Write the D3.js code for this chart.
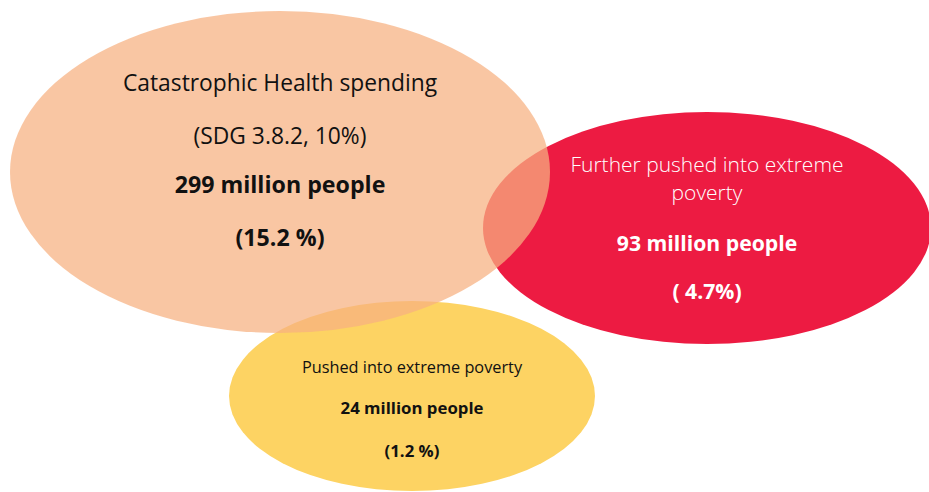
<!DOCTYPE html>
<html>
<head>
<meta charset="utf-8">
<script src="https://cdn.jsdelivr.net/npm/d3@7"></script>
<style>
  html, body { margin: 0; padding: 0; background: #fff; }
  svg { display: block; font-family: "Open Sans", "Noto Sans", sans-serif; }
</style>
</head>
<body>
<svg id="chart" width="929" height="492"></svg>
<script>
// Groups of people affected by out-of-pocket health spending
const groups = ["catastrophic", "furtherPushed", "pushed"];
const titles = [
  ["Catastrophic Health spending", "(SDG 3.8.2, 10%)"],
  ["Further pushed into extreme", "poverty"],
  ["Pushed into extreme poverty"]
];
const millions = [299, 93, 24];
const shareLabels = ["(15.2 %)", "( 4.7%)", "(1.2 %)"];

const svg = d3.select("#chart");

// Ellipse layout for each group (centre, radii), fill and text styling
const layout = {
  catastrophic: {
    cx: 280, cy: 172, rx: 270, ry: 161, fill: "#F7B181", opacity: 0.73,
    color: "#111", titleSize: 22.8, titleWeight: 400, valueSize: 23.2,
    lines: [91, 144, 193, 246]
  },
  furtherPushed: {
    cx: 707, cy: 228, rx: 224, ry: 116, fill: "#ED1B42", opacity: 1,
    color: "#fff", titleSize: 21, titleWeight: 300, valueSize: 21.2,
    lines: [172, 200, 251, 299]
  },
  pushed: {
    cx: 412, cy: 396, rx: 183, ry: 95, fill: "#FDD363", opacity: 1,
    color: "#111", titleSize: 16.3, titleWeight: 400, valueSize: 16.8,
    lines: [373, 414, 457]
  }
};

const rows = groups.map((g, i) => ({
  key: g,
  title: titles[i],
  value: millions[i] + " million people",
  share: shareLabels[i],
  ...layout[g]
}));

// Stacking order: red below, yellow, then the translucent peach on top
const drawOrder = ["furtherPushed", "pushed", "catastrophic"];
const ordered = drawOrder.map(k => rows.find(r => r.key === k));

svg.append("g")
  .selectAll("ellipse")
  .data(ordered)
  .join("ellipse")
  .attr("cx", d => d.cx)
  .attr("cy", d => d.cy)
  .attr("rx", d => d.rx)
  .attr("ry", d => d.ry)
  .attr("fill", d => d.fill)
  .attr("fill-opacity", d => d.opacity);

const labels = svg.append("g")
  .selectAll("g")
  .data(rows)
  .join("g")
  .attr("fill", d => d.color)
  .attr("text-anchor", "middle");

labels.each(function (d) {
  const g = d3.select(this);
  const texts = [
    ...d.title.map(t => ({ t, size: d.titleSize, weight: d.titleWeight })),
    { t: d.value, size: d.valueSize, weight: 700 },
    { t: d.share, size: d.valueSize, weight: 700 }
  ];
  g.selectAll("text")
    .data(texts)
    .join("text")
    .attr("x", d.cx)
    .attr("y", (_, j) => d.lines[j])
    .attr("font-size", t => t.size)
    .attr("font-weight", t => t.weight)
    .text(t => t.t);
});
</script>
</body>
</html>
